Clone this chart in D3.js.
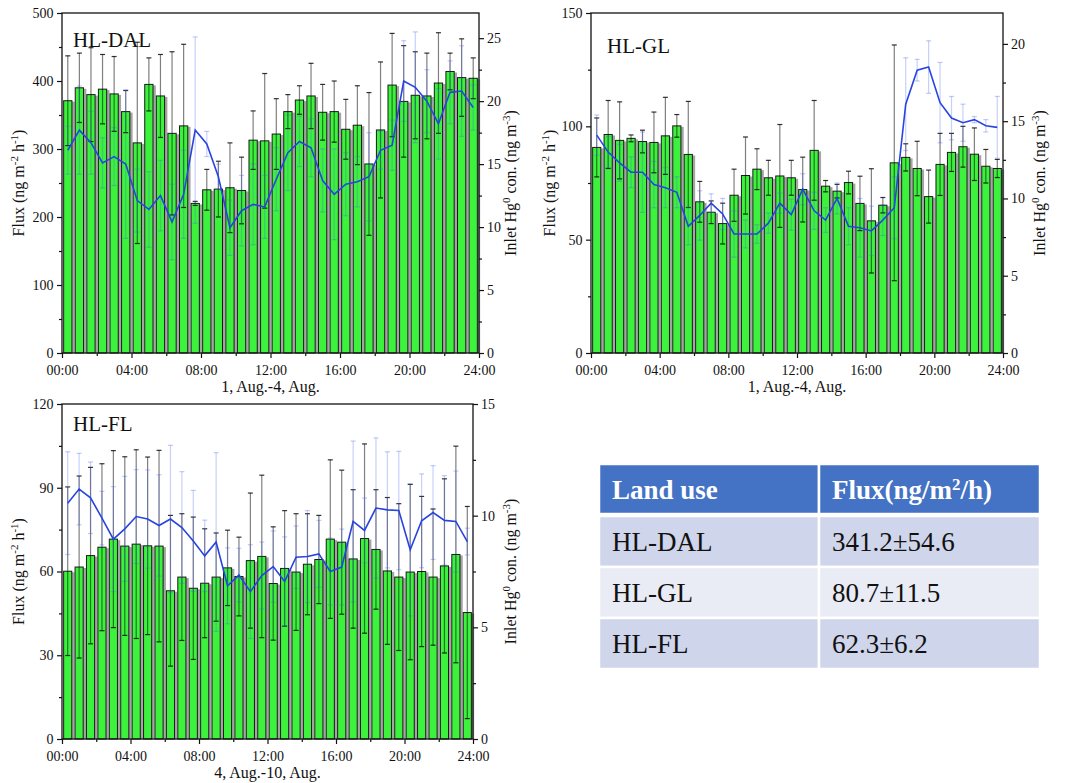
<!DOCTYPE html>
<html><head><meta charset="utf-8">
<script src="https://cdn.jsdelivr.net/npm/d3@7/dist/d3.min.js"></script>
<style>
body{margin:0;background:#fff}
text{font-family:"Liberation Serif","Times New Roman",serif;fill:#111}
</style>
</head><body>
<svg id="c" width="1065" height="783"></svg>
<script>
// ---------------- DATA ----------------
const timeSlots = ["00:00","00:40","01:20","02:00","02:40","03:20","04:00","04:40","05:20","06:00","06:40","07:20",
  "08:00","08:40","09:20","10:00","10:40","11:20","12:00","12:40","13:20","14:00","14:40","15:20",
  "16:00","16:40","17:20","18:00","18:40","19:20","20:00","20:40","21:20","22:00","22:40","23:20"];
const xTickLabels = ["00:00","04:00","08:00","12:00","16:00","20:00","24:00"];
const xMinorLabels = ["02:00","06:00","10:00","14:00","18:00","22:00"];

// HL-DAL
const dalFlux = [371,390,380,388,381,355,309,395,378,323,334,220,240,241,243,239,313,312,322,355,372,378,354,355,329,335,278,328,394,370,379,378,397,414,405,404];
const dalFluxErr = [66,51,69,51,55,31,148,39,61,120,120,3,30,41,66,49,43,99,52,25,21,48,41,45,44,58,105,100,76,82,64,63,74,27,57,30];
const dalHg = [16.1,17.7,16.7,15.1,15.6,15.0,12.1,11.4,12.5,10.4,12.6,17.7,16.6,14.0,9.95,11.3,11.8,11.6,13.8,15.9,16.8,16.3,13.7,12.6,13.4,13.6,14.0,16.1,16.5,21.6,21.1,20.0,18.2,20.7,20.8,19.5];
const dalHgErr = [1.9,3.5,2.5,2.0,2.3,5.9,2.5,3.0,2.8,3.0,3.5,7.4,1.0,1.0,2.2,2.8,3.2,2.5,2.5,3.0,2.0,2.3,2.5,3.6,2.5,2.0,3.5,1.5,2.0,3.2,4.4,2.5,2.8,2.5,3.6,1.8];
const dalLeftTicks = [0,100,200,300,400,500];
const dalRightTicks = [0,5,10,15,20,25];

// HL-GL
const glFlux = [90.7,96.4,93.8,94.7,93.3,92.9,95.8,100.2,87.6,66.7,62.1,57.1,69.6,78.3,81.1,77.3,78.1,77.3,72.1,89.4,73.6,71.4,75.2,66.0,58.3,65.2,83.9,86.3,81.4,69.0,83.2,88.5,91.0,87.7,82.4,81.4];
const glFluxErr = [13,15,17,1.5,5,13.4,17,5,23.4,9,5,9,11.5,17,9,7.7,22.7,7.7,14.3,22,2.5,3,5,12,23,3.4,52,6,12,11.7,13.7,8.4,9,11.6,7.4,4];
const glHg = [14.1,13.0,12.3,11.7,11.7,10.9,10.7,10.4,8.2,8.9,9.7,9.0,7.7,7.7,7.7,8.4,9.7,8.95,10.6,9.2,8.6,10.0,8.2,8.1,7.9,8.6,9.4,16.1,18.3,18.5,16.2,15.2,14.9,15.1,14.7,14.6];
const glHgErr = [1.3,1.0,1.2,1.0,2.6,1.5,1.3,1.0,1.2,1.6,0.6,1.0,1.5,0.9,0.6,0.65,0.65,1.0,1.0,1.2,0.8,1.0,1.2,1.9,1.6,1.0,2.0,3.0,0.7,1.7,2.6,1.4,1.2,0.2,0.4,2.0];
const glLeftTicks = [0,50,100,150];
const glRightTicks = [0,5,10,15,20];

// HL-FL
const flFlux = [60.1,61.6,65.7,68.7,71.6,69.1,69.8,69.2,69.1,53.1,58.0,54.0,55.8,58.0,61.3,58.2,63.9,65.4,55.7,61.1,59.8,62.6,64.3,71.6,70.5,64.5,71.8,67.9,60.2,58.0,59.8,60.0,58.0,62.0,66.1,45.3];
const flFluxErr = [30.2,32.6,31.6,29.9,31.7,32.0,33.8,31.8,34.3,27.0,22.7,25.5,19.5,15.8,13.5,14.1,24.2,29.1,20.3,20.7,20.9,18.1,15.8,28.4,25.8,24.8,33.9,21.4,26.3,26.3,31.4,26.9,24.4,31.2,38.8,38.0];
const flHg = [10.56,11.19,10.8,9.89,8.95,9.41,9.96,9.85,9.56,9.85,9.47,8.87,8.2,8.82,6.86,7.34,6.6,7.32,7.72,7.05,8.14,8.17,8.29,7.5,7.7,9.74,9.34,10.34,10.26,10.23,8.47,9.77,10.14,9.79,9.74,8.84];
const flHgErr = [2.3,1.6,1.6,1.2,2.35,2.35,2.1,2.2,2.27,3.3,2.5,2.26,1.6,4.0,1.7,1.2,2.1,1.5,1.6,2.0,1.4,2.06,1.5,1.5,1.7,3.6,1.45,3.14,2.6,2.65,2.96,2.1,2.1,2.0,2.26,0.6];
const flLeftTicks = [0,30,60,90,120];
const flRightTicks = [0,5,10,15];

// Table
const tableHeader = ["Land use","Flux(ng/m²/h)"];
const landUse = ["HL-DAL","HL-GL","HL-FL"];
const fluxSummary = ["341.2±54.6","80.7±11.5","62.3±6.2"];

// ---------------- DRAW ----------------
const svg = d3.select("#c");
const toHours = s => { const [h,m] = s.split(":").map(Number); return h + m/60; };
const binW = toHours(timeSlots[1]) - toHours(timeSlots[0]);
const centers = timeSlots.map(s => toHours(s) + binW/2);

function minorOf(ticks, max){
  const step = ticks[1]-ticks[0];
  const out = [];
  ticks.forEach(t => { if (t + step/2 <= max + 1e-9) out.push(t + step/2); });
  return out;
}

function styleAxis(g){
  g.select(".domain").remove();
  g.selectAll("line").attr("stroke","#111").attr("stroke-width",1.2);
  g.selectAll("text").style("font-size","14px").style("font-family",'"Liberation Serif",serif').attr("fill","#111");
}

function panel(cfg){
  const g = svg.append("g");
  const x = d3.scaleLinear().domain([0,24]).range([cfg.x0,cfg.x1]);
  const yL = d3.scaleLinear().domain([0,cfg.leftMax]).range([cfg.y1,cfg.y0]);
  const yR = d3.scaleLinear().domain([0,cfg.rightMax]).range([cfg.y1,cfg.y0]);
  const band = x(binW) - x(0);
  const bw = band*0.8;
  const idx = d3.range(cfg.flux.length);

  // bar shadows
  g.append("g").selectAll("rect").data(idx).join("rect")
    .attr("x", i => x(centers[i]) - bw/2 + 2.3)
    .attr("y", i => yL(cfg.flux[i]) + 1)
    .attr("width", bw)
    .attr("height", i => yL(0) - yL(cfg.flux[i]) - 1)
    .attr("fill", "#a4a4a4");
  // bars
  g.append("g").selectAll("rect").data(idx).join("rect")
    .attr("x", i => x(centers[i]) - bw/2 + 0.5)
    .attr("y", i => yL(cfg.flux[i]))
    .attr("width", bw - 1)
    .attr("height", i => yL(0) - yL(cfg.flux[i]))
    .attr("fill", "#3cf23c")
    .attr("stroke", "#1a1a1a").attr("stroke-width", 1);

  // black error bars
  const eb = g.append("g");
  idx.forEach(i => {
    const cx = x(centers[i]);
    const lo = Math.max(0, cfg.flux[i]-cfg.fluxErr[i]), hi = Math.min(cfg.leftMax, cfg.flux[i]+cfg.fluxErr[i]);
    eb.append("line").attr("x1",cx).attr("x2",cx).attr("y1",yL(lo)).attr("y2",yL(hi))
      .attr("stroke","#000").attr("stroke-opacity",0.5).attr("stroke-width",1.2);
    [lo,hi].forEach(v => {
      if (v === cfg.flux[i]-cfg.fluxErr[i] || v === cfg.flux[i]+cfg.fluxErr[i])
      eb.append("line").attr("x1",cx-2.5).attr("x2",cx+2.5).attr("y1",yL(v)).attr("y2",yL(v))
        .attr("stroke","#000").attr("stroke-opacity",0.8).attr("stroke-width",1.2);
    });
  });
  // blue error bars
  const be = g.append("g");
  idx.forEach(i => {
    const cx = x(centers[i]);
    const lo = cfg.hg[i]-cfg.hgErr[i], hi = cfg.hg[i]+cfg.hgErr[i];
    be.append("line").attr("x1",cx).attr("x2",cx).attr("y1",yR(lo)).attr("y2",yR(hi))
      .attr("stroke","#4a64f0").attr("stroke-opacity",0.3).attr("stroke-width",1.2);
    [lo,hi].forEach(v => be.append("line").attr("x1",cx-2.5).attr("x2",cx+2.5).attr("y1",yR(v)).attr("y2",yR(v))
        .attr("stroke","#4a64f0").attr("stroke-opacity",0.35).attr("stroke-width",1.2));
  });
  // blue line
  g.append("path").datum(idx)
    .attr("d", d3.line().x(i => x(centers[i])).y(i => yR(cfg.hg[i])))
    .attr("fill","none").attr("stroke","#2744e0").attr("stroke-width",1.6);

  // frame
  g.append("rect").attr("x",cfg.x0).attr("y",cfg.y0).attr("width",cfg.x1-cfg.x0).attr("height",cfg.y1-cfg.y0)
    .attr("fill","none").attr("stroke","#111").attr("stroke-width",1.3);

  // axes
  const xMaj = xTickLabels.map(toHours);
  xMaj[xMaj.length-1] = 24;
  const xa = g.append("g").attr("transform",`translate(0,${cfg.y1})`)
    .call(d3.axisBottom(x).tickValues(xMaj).tickFormat((d,i)=>xTickLabels[i]).tickSize(5).tickPadding(7));
  styleAxis(xa);
  const xm = g.append("g").attr("transform",`translate(0,${cfg.y1})`)
    .call(d3.axisBottom(x).tickValues(xMinorLabels.map(toHours)).tickFormat("").tickSize(3));
  styleAxis(xm);

  const la = g.append("g").attr("transform",`translate(${cfg.x0},0)`)
    .call(d3.axisLeft(yL).tickValues(cfg.leftTicks).tickSize(5).tickPadding(3.5));
  styleAxis(la);
  const lm = g.append("g").attr("transform",`translate(${cfg.x0},0)`)
    .call(d3.axisLeft(yL).tickValues(minorOf(cfg.leftTicks,cfg.leftMax)).tickFormat("").tickSize(3));
  styleAxis(lm);

  const ra = g.append("g").attr("transform",`translate(${cfg.x1},0)`)
    .call(d3.axisRight(yR).tickValues(cfg.rightTicks).tickSize(5).tickPadding(3));
  styleAxis(ra);
  const rm = g.append("g").attr("transform",`translate(${cfg.x1},0)`)
    .call(d3.axisRight(yR).tickValues(minorOf(cfg.rightTicks,cfg.rightMax)).tickFormat("").tickSize(3));
  styleAxis(rm);

  // panel label
  g.append("text").attr("x",cfg.labelX).attr("y",cfg.labelY).style("font-size","21px").text(cfg.label);

  // x title
  g.append("text").attr("x",(cfg.x0+cfg.x1)/2).attr("y",cfg.y1+39).attr("text-anchor","middle")
    .style("font-size","16px").text(cfg.xTitle);

  const cy = (cfg.y0+cfg.y1)/2;
  // left title
  const lt = g.append("text").attr("transform",`translate(${cfg.leftTitleX},${cy}) rotate(-90)`)
    .attr("text-anchor","middle").style("font-size","16px");
  lt.append("tspan").text("Flux (ng m");
  lt.append("tspan").attr("dy",-6).style("font-size","11px").text("-2");
  lt.append("tspan").attr("dy",6).text(" h");
  lt.append("tspan").attr("dy",-6).style("font-size","11px").text("-1");
  lt.append("tspan").attr("dy",6).text(")");
  // right title
  const rt = g.append("text").attr("transform",`translate(${cfg.rightTitleX},${cy}) rotate(-90)`)
    .attr("text-anchor","middle").style("font-size","16px");
  rt.append("tspan").text("Inlet Hg");
  rt.append("tspan").attr("dy",-6).style("font-size","11px").text("0");
  rt.append("tspan").attr("dy",6).text(" con. (ng m");
  rt.append("tspan").attr("dy",-6).style("font-size","11px").text("-3");
  rt.append("tspan").attr("dy",6).text(")");
}

panel({x0:62,x1:479,y0:13,y1:353,leftMax:500,rightMax:27,leftTicks:dalLeftTicks,rightTicks:dalRightTicks,
  flux:dalFlux,fluxErr:dalFluxErr,hg:dalHg,hgErr:dalHgErr,label:"HL-DAL",labelX:73,labelY:47,
  leftTitleX:24,rightTitleX:516,xTitle:"1, Aug.-4, Aug."});
panel({x0:591,x1:1003,y0:13,y1:353,leftMax:150,rightMax:22,leftTicks:glLeftTicks,rightTicks:glRightTicks,
  flux:glFlux,fluxErr:glFluxErr,hg:glHg,hgErr:glHgErr,label:"HL-GL",labelX:607,labelY:53,
  leftTitleX:555,rightTitleX:1045,xTitle:"1, Aug.-4, Aug."});
panel({x0:62,x1:473,y0:404,y1:739,leftMax:120,rightMax:15,leftTicks:flLeftTicks,rightTicks:flRightTicks,
  flux:flFlux,fluxErr:flFluxErr,hg:flHg,hgErr:flHgErr,label:"HL-FL",labelX:73,labelY:431,
  leftTitleX:24,rightTitleX:516,xTitle:"4, Aug.-10, Aug."});

// ---------------- TABLE ----------------
const tb = svg.append("g");
const tx0 = 599, tx1 = 1040, tsplit = 819;
const rowTops = [464, 516, 567, 618];
const rowH = [50, 51, 51, 51];
const rowFill = ["#4472c4","#cfd5ea","#e9ebf5","#cfd5ea"];
const rows = [tableHeader].concat(landUse.map((l,i)=>[l, fluxSummary[i]]));
rows.forEach((r,ri) => {
  [[tx0,tsplit],[tsplit,tx1]].forEach(([a,b],ci) => {
    tb.append("rect").attr("x",a).attr("y",rowTops[ri]).attr("width",b-a).attr("height",rowH[ri])
      .attr("fill",rowFill[ri]).attr("stroke","#fff").attr("stroke-width",2.5);
    const t = tb.append("text").attr("x", a + 13).attr("y", rowTops[ri] + 34.5)
      .style("font-size", "27px")
      .style("font-weight", ri===0 ? "bold" : "normal")
      .style("fill", ri===0 ? "#fff" : "#111");
    if (ri===0 && ci===1){
      t.append("tspan").text("Flux(ng/m");
      t.append("tspan").attr("dy",-9).style("font-size","17px").text("2");
      t.append("tspan").attr("dy",9).text("/h)");
    } else t.text(r[ci]);
  });
});
</script>
</body></html>
